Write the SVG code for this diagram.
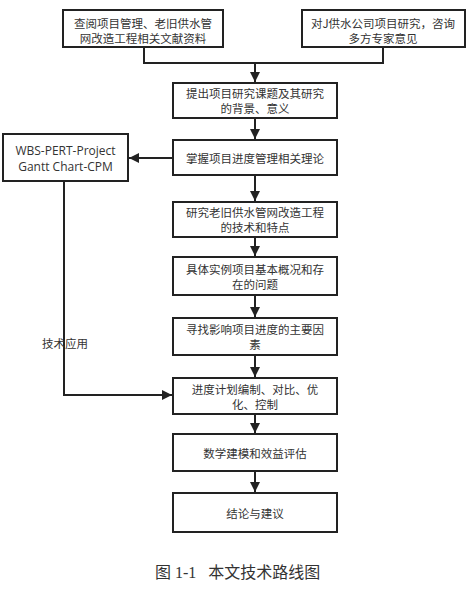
<svg xmlns="http://www.w3.org/2000/svg" width="474" height="594" viewBox="0 0 474 594">
<defs>
<style>
.box{fill:#fff;stroke:#222;stroke-width:2}
.t{font-family:"Noto Sans CJK SC","Noto Sans",sans-serif;font-size:11.5px;fill:#333;text-anchor:middle;dominant-baseline:central}
.lat{font-family:"Open Sans","Noto Sans",sans-serif;font-size:12px;fill:#333;text-anchor:middle;dominant-baseline:central}
.ln{fill:none;stroke:#222;stroke-width:2}
.cap{font-family:"Liberation Serif","Noto Sans CJK SC",serif;font-size:16px;fill:#333;dominant-baseline:central}
</style>
<marker id="ah" viewBox="0 0 10 10" refX="10" refY="5" markerWidth="10" markerHeight="10" markerUnits="userSpaceOnUse" orient="auto">
<path d="M0,0 L10,5 L0,10 z" fill="#222"/>
</marker>
</defs>
<rect width="474" height="594" fill="#fff"/>
<g id="connectors">
<path class="ln" d="M144,47 V63 H383 V47"/>
<path class="ln" d="M255,63 V82" marker-end="url(#ah)"/>
<path class="ln" d="M255,118 V139" marker-end="url(#ah)"/>
<path class="ln" d="M173,158 H129" marker-end="url(#ah)"/>
<path class="ln" d="M255,175 V201" marker-end="url(#ah)"/>
<path class="ln" d="M255,237 V256" marker-end="url(#ah)"/>
<path class="ln" d="M255,295 V317" marker-end="url(#ah)"/>
<path class="ln" d="M255,355 V377" marker-end="url(#ah)"/>
<path class="ln" d="M64,181 V395 H172" marker-end="url(#ah)"/>
<path class="ln" d="M255,414 V433" marker-end="url(#ah)"/>
<path class="ln" d="M255,471 V492" marker-end="url(#ah)"/>
<text class="t" x="65" y="343">技术应用</text>
</g>
<g id="n1"><rect class="box" x="63" y="10" width="160" height="37"/>
<text class="t" x="143" y="23">查阅项目管理、老旧供水管</text><text class="t" x="143" y="38">网改造工程相关文献资料</text></g>
<g id="n2"><rect class="box" x="302" y="10" width="163" height="37"/>
<text class="t" x="383" y="23">对J供水公司项目研究，咨询</text><text class="t" x="383" y="38">多方专家意见</text></g>
<g id="n3"><rect class="box" x="173" y="83" width="164" height="35"/>
<text class="t" x="255" y="93">提出项目研究课题及其研究</text><text class="t" x="255" y="108">的背景、意义</text></g>
<g id="n4"><rect class="box" x="173" y="140" width="164" height="35"/>
<text class="t" x="255" y="158">掌握项目进度管理相关理论</text></g>
<g id="wbs"><rect class="box" x="3" y="134" width="125" height="47"/>
<text class="lat" x="65.5" y="150.5">WBS-PERT-Project</text><text class="lat" x="65.5" y="166.5">Gantt Chart-CPM</text></g>
<g id="n5"><rect class="box" x="173" y="202" width="164" height="35"/>
<text class="t" x="255" y="212">研究老旧供水管网改造工程</text><text class="t" x="255" y="227">的技术和特点</text></g>
<g id="n6"><rect class="box" x="173" y="257" width="164" height="38"/>
<text class="t" x="255" y="268.5">具体实例项目基本概况和存</text><text class="t" x="255" y="283.5">在的问题</text></g>
<g id="n7"><rect class="box" x="173" y="318" width="164" height="37"/>
<text class="t" x="255" y="329">寻找影响项目进度的主要因</text><text class="t" x="255" y="344">素</text></g>
<g id="n8"><rect class="box" x="173" y="378" width="164" height="36"/>
<text class="t" x="255" y="389">进度计划编制、对比、优</text><text class="t" x="255" y="404">化、控制</text></g>
<g id="n9"><rect class="box" x="173" y="434" width="164" height="37"/>
<text class="t" x="255" y="452.5">数学建模和效益评估</text></g>
<g id="n10"><rect class="box" x="173" y="493" width="164" height="39"/>
<text class="t" x="255" y="512.5">结论与建议</text></g>
<text class="cap" x="155" y="572" xml:space="preserve">图 1-1   本文技术路线图</text>
</svg>
